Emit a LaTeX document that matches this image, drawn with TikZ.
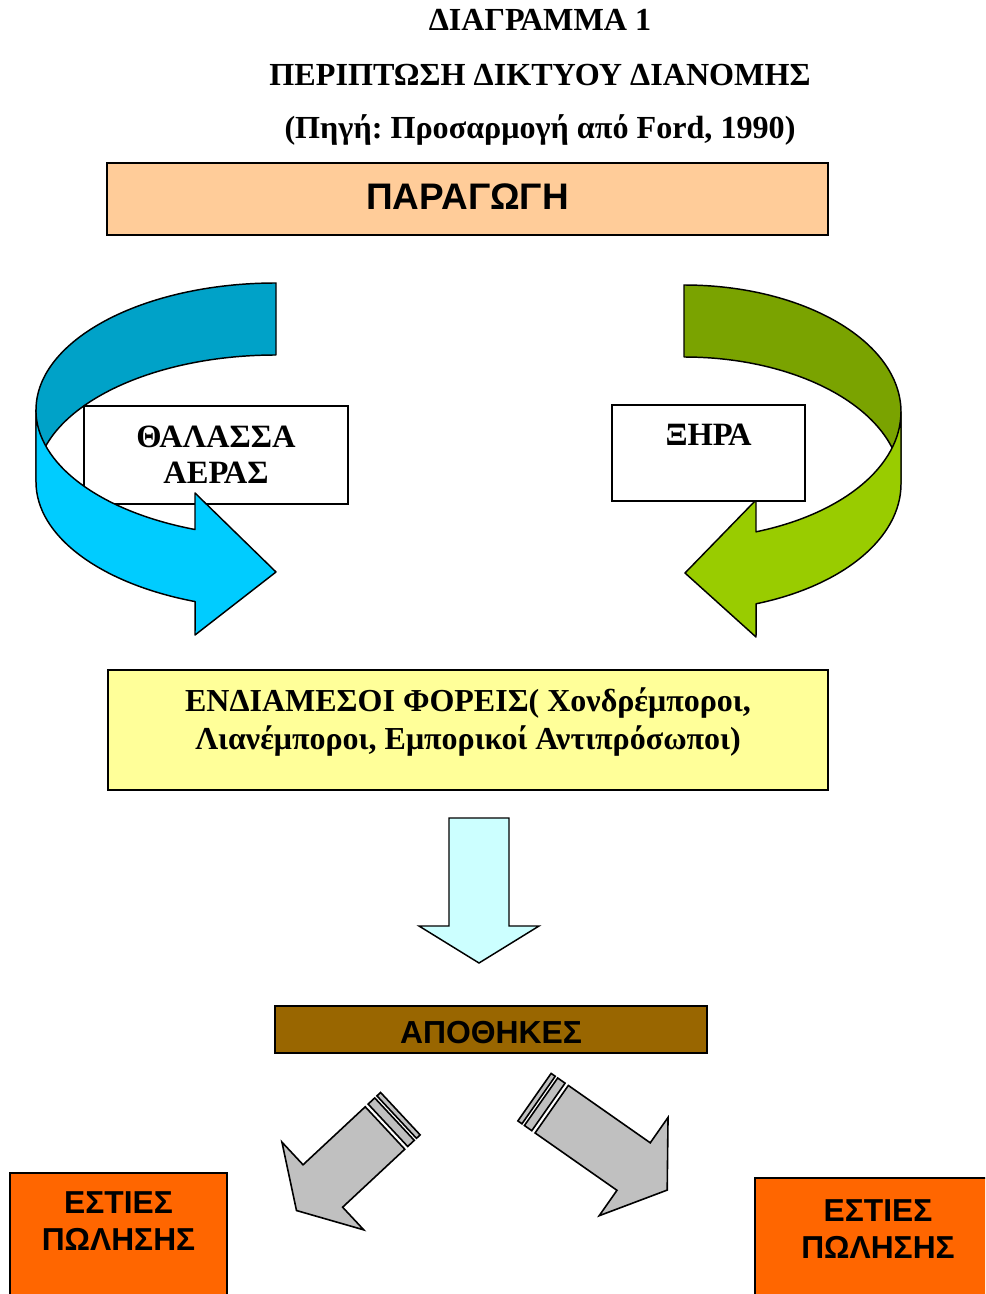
\documentclass[tikz,border=0pt]{standalone}
\usepackage{fontspec}
\setmainfont{Liberation Serif}
\setsansfont{Liberation Sans}
\frenchspacing
\definecolor{prodpeach}{HTML}{FFCC99}
\definecolor{seadark}{HTML}{00A2C8}
\definecolor{sealight}{HTML}{00CCFF}
\definecolor{landdark}{HTML}{7AA300}
\definecolor{landlight}{HTML}{99CC00}
\definecolor{brokerfill}{HTML}{FFFF99}
\definecolor{downfill}{HTML}{CCFFFF}
\definecolor{storefill}{HTML}{996600}
\definecolor{shopfill}{HTML}{FF6600}
\definecolor{stripegray}{HTML}{C0C0C0}
\tikzset{
  flowbox/.style={draw=black,line width=1.5pt,inner sep=0pt,align=center},
  bandline/.style={draw=black,line width=1.1pt,line join=round},
  stripearrow/.style={draw=black,fill=stripegray,line width=1.2pt,line join=miter},
  titletext/.style={font=\bfseries\fontsize{24.1}{28}\selectfont},
  boxserif/.style={font=\bfseries\fontsize{24.4}{27}\selectfont},
  boxsans/.style={font=\sffamily\bfseries\fontsize{23.8}{27.75}\selectfont}
}

\begin{document}
\begin{tikzpicture}[x=0.75pt,y=0.75pt]
  \clip (0,0) rectangle (985,-1294);
  \fill[white] (0,0) rectangle (985,-1294);
  % heading
  \node[titletext] (title1) at (540,-20) {ΔΙΑΓΡΑΜΜΑ 1};
  \node[titletext] (title2) at (540,-75) {ΠΕΡΙΠΤΩΣΗ ΔΙΚΤΥΟΥ ΔΙΑΝΟΜΗΣ};
  \node[titletext] (title3) at (540,-130) {(Πηγή: Προσαρμογή από Ford, 1990)};

  \node[flowbox,fill=prodpeach,minimum width=540.75pt,minimum height=54pt,text depth=4pt,
    font=\sffamily\bfseries\fontsize{27.7}{33}\selectfont] (prod) at (467.5,-199) {ΠΑΡΑΓΩΓΗ};

  % sea / air: box under the curved arrow
  \node[flowbox,fill=white,minimum width=198pt,minimum height=73.5pt,boxserif]
    (seaair) at (216,-455) {ΘΑΛΑΣΣΑ\\ΑΕΡΑΣ};
  \path[bandline,fill=seadark] (276,-283)
    arc[start angle=90,end angle=180,x radius=240,y radius=127] -- (36,-482)
    arc[start angle=180,end angle=90,x radius=240,y radius=127] -- cycle;
  \path[bandline,fill=sealight] (36,-410) -- (36,-482)
    arc[start angle=180,end angle=250.3,x radius=240,y radius=127]
    -- (195,-635) -- (276,-572) -- (195,-493) -- (195,-529.5)
    arc[start angle=250.3,end angle=180,x radius=240,y radius=127] -- cycle;

  % land: curved arrow under the box
  \path[bandline,fill=landdark] (684,-285)
    arc[start angle=90,end angle=0,x radius=217,y radius=127] -- (901,-484)
    arc[start angle=0,end angle=90,x radius=217,y radius=127] -- cycle;
  \path[bandline,fill=landlight] (901,-412) -- (901,-484)
    arc[start angle=0,end angle=-70.6,x radius=217,y radius=127]
    -- (756,-637) -- (685,-573) -- (756,-500) -- (756,-531.8)
    arc[start angle=-70.6,end angle=0,x radius=217,y radius=127] -- cycle;
  \node[flowbox,fill=white,minimum width=144.75pt,minimum height=72pt,boxserif]
    (land) at (708.5,-453) {ΞΗΡΑ\\~};

  \node[flowbox,fill=brokerfill,minimum width=540pt,minimum height=90pt] (broker) at (468,-730) {};
  \node[align=center,font=\bfseries\fontsize{24}{28.5}\selectfont] (brokertext) at (468,-722)
    {ΕΝΔΙΑΜΕΣΟΙ ΦΟΡΕΙΣ( Χονδρέμποροι,\\Λιανέμποροι, Εμπορικοί Αντιπρόσωποι)};

  \draw[line width=1.1pt,fill=downfill,line join=miter] (449,-818) -- (509,-818) -- (509,-926)
    -- (539,-926) -- (479,-963) -- (419,-926) -- (449,-926) -- cycle;

  \node[flowbox,fill=storefill,minimum width=324pt,minimum height=35.25pt,text height=21pt,text depth=0pt,
    font=\sffamily\bfseries\fontsize{23.9}{28}\selectfont] (store) at (491,-1029.5) {ΑΠΟΘΗΚΕΣ};

  % striped arrows to the outlets
  \begin{scope}[shift={(385,-1128)},rotate=223]
    \path[stripearrow] (0,29) -- (85,29) -- (85,60) -- (121,0) -- (85,-60) -- (85,-29) -- (0,-29) -- cycle;
    \path[stripearrow] (-13,29) rectangle (-4,-29);
    \path[stripearrow] (-21,29) rectangle (-16,-29);
  \end{scope}
  \begin{scope}[shift={(551.7,-1109.2)},rotate=-35]
    \path[stripearrow] (0,29) -- (100,29) -- (100,60) -- (141,0) -- (100,-60) -- (100,-29) -- (0,-29) -- cycle;
    \path[stripearrow] (-13,29) rectangle (-4,-29);
    \path[stripearrow] (-21,29) rectangle (-16,-29);
  \end{scope}

  \node[flowbox,fill=shopfill,minimum width=162.75pt,minimum height=100.5pt,boxsans]
    (shopleft) at (118.5,-1240) {ΕΣΤΙΕΣ\\ΠΩΛΗΣΗΣ\\~};
  \node[flowbox,fill=shopfill,minimum width=184.5pt,minimum height=105pt,boxsans]
    (shopright) at (878,-1248) {ΕΣΤΙΕΣ\\ΠΩΛΗΣΗΣ\\~};
\end{tikzpicture}
\end{document}
